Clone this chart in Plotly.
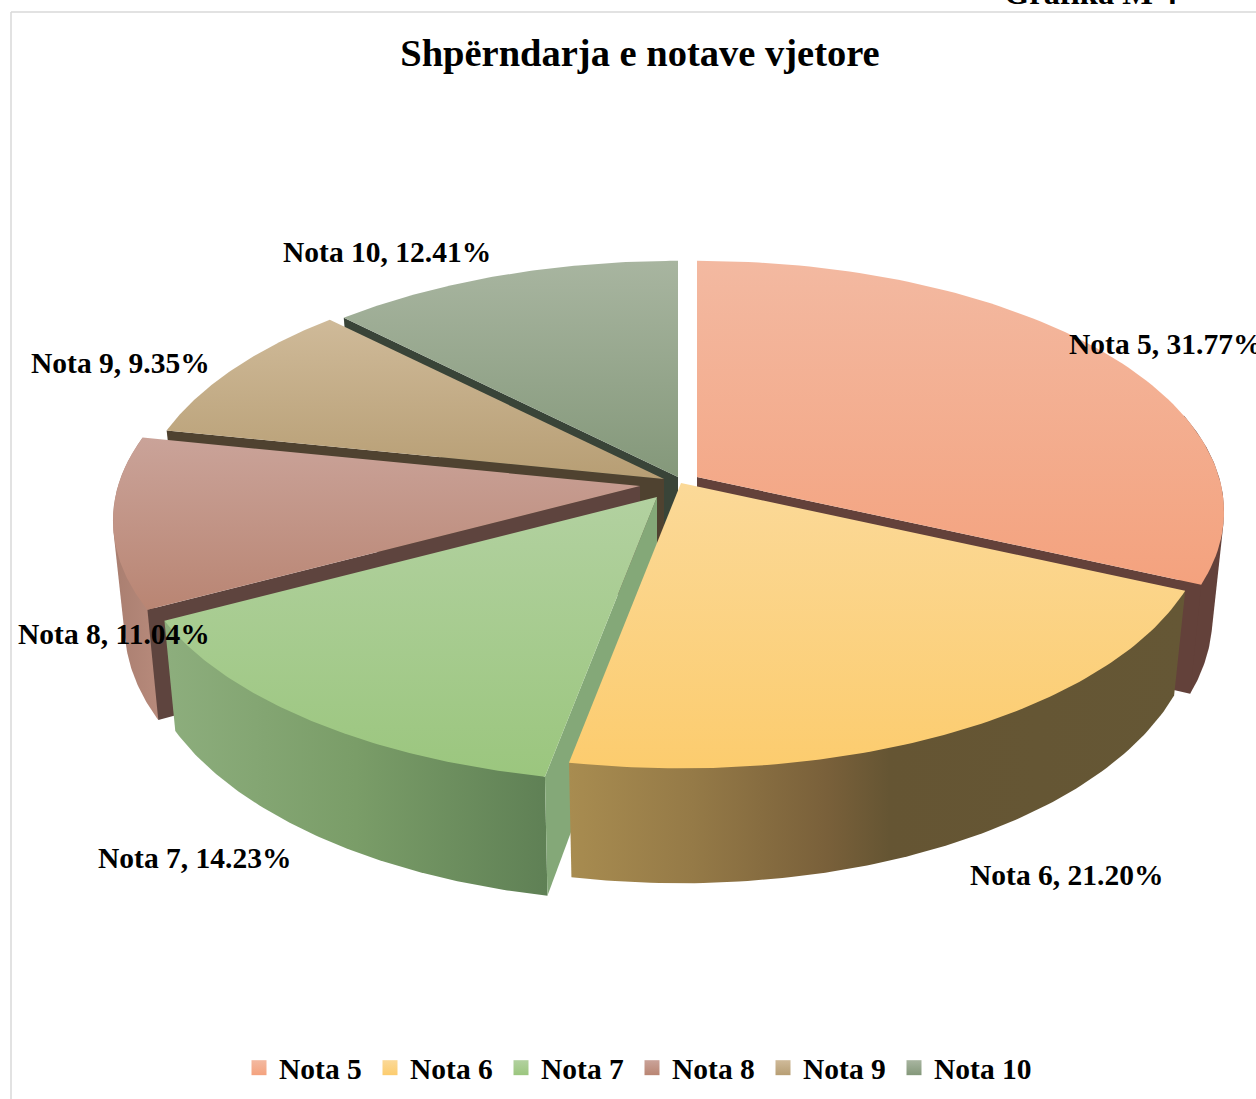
import numpy as np
import plotly.graph_objects as go

# ---- data ----
categories = ["Nota 5", "Nota 6", "Nota 7", "Nota 8", "Nota 9", "Nota 10"]
shares = [31.77, 21.20, 14.23, 11.04, 9.35, 12.41]
title_text = "Shpërndarja e notave vjetore"

# ---- style and layout ----
W, H = 1256, 1099
FONT = "Liberation Serif"
RX, RY, PERSP, TAPER = 522, 246, 0.138, 0.978
DEPTH = [103, 99, 103, 103, 103, 103]
apex = [(697, 477), (681, 483), (657, 497), (640, 486), (664, 479), (678, 477)]
top_grad = [("#f3b9a1", "#f4a27e"), ("#fbd998", "#fccc6e"), ("#b2d1a0", "#9bc67e"),
            ("#caa399", "#b98573"), ("#cfba99", "#b79e74"), ("#a8b5a0", "#84987a")]
rim_grad = [
    [(0, "#63413a"), (1, "#63413a")],
    [(0, "#a88c50"), (0.2, "#957a47"), (0.42, "#79603a"), (0.52, "#655533"), (1, "#655735")],
    [(0, "#8dae7d"), (0.5, "#7a9d68"), (1, "#5f8055")],
    [(0, "#a97e70"), (1, "#b78a7b")],
    None,
    None,
]
wall_color = ["#63413a", None, "#84a878", "#5e443e", "#4f4230", "#394438"]
draw_order = [5, 4, 0, 3, 2, 1]
label_pos = [(1067, 344), (968, 875), (96, 858), (16, 634), (29, 363), (281, 252)]
VIS_FROM, VIS_TO = np.deg2rad(75), np.deg2rad(285)

edges = np.deg2rad(np.concatenate([[0], np.cumsum(shares)]) * 3.6)


def top_pt(i, th):
    X, Y = np.sin(th), -np.cos(th)
    s = 1 / (1 - PERSP * Y)
    return apex[i][0] + RX * X * s, apex[i][1] + RY * Y * s


def low_pt(i, th):
    X, Y = np.sin(th), -np.cos(th)
    s = 1 / (1 - PERSP * Y)
    return apex[i][0] + TAPER * RX * X * s, apex[i][1] + RY * Y * s + DEPTH[i] * s


def hull(xs, ys):
    pts = sorted(set(zip(np.round(xs, 2).tolist(), np.round(ys, 2).tolist())))

    def half(seq):
        out = []
        for p in seq:
            while len(out) > 1 and ((out[-1][0] - out[-2][0]) * (p[1] - out[-2][1])
                                    - (out[-1][1] - out[-2][1]) * (p[0] - out[-2][0])) <= 0:
                out.pop()
            out.append(p)
        return out[:-1]

    ring = half(pts) + half(pts[::-1])
    ring.append(ring[0])
    return [p[0] for p in ring], [p[1] for p in ring]


def poly(fig, xs, ys, **kw):
    fig.add_trace(go.Scatter(x=list(xs), y=list(ys), mode="lines", fill="toself",
                             line=dict(width=0), showlegend=False, hoverinfo="skip", **kw))


fig = go.Figure()
for i in draw_order:
    th = np.linspace(edges[i], edges[i + 1], 90)
    tx, ty = top_pt(i, th)
    ax, ay = apex[i]
    # rim, only the part that faces the viewer
    if rim_grad[i] is not None:
        vis = np.linspace(max(edges[i], VIS_FROM), min(edges[i + 1], VIS_TO), 90)
        vtx, vty = top_pt(i, vis)
        vbx, vby = low_pt(i, vis)
        hx, hy = hull(np.r_[vtx, vbx], np.r_[vty, vby])
        poly(fig, hx, hy, fillcolor=wall_color[i] or rim_grad[i][-1][1],
             fillgradient=dict(type="horizontal", colorscale=rim_grad[i]))
    # the one radial wall that can be seen
    if wall_color[i] is not None:
        e = edges[i + 1] if edges[i + 1] < np.pi else edges[i]
        p, q = top_pt(i, e), low_pt(i, e)
        poly(fig, [ax, p[0], q[0], ax], [ay, p[1], q[1], ay + DEPTH[i]],
             fillcolor=wall_color[i])
    # top face
    poly(fig, np.r_[ax, tx, ax], np.r_[ay, ty, ay],
         fillcolor=top_grad[i][1],
         fillgradient=dict(type="vertical",
                           colorscale=[(0, top_grad[i][1]), (1, top_grad[i][0])]))

# legend entries
for i, name in enumerate(categories):
    fig.add_trace(go.Scatter(
        x=[None], y=[None], mode="markers", name=name, legendrank=i + 1,
        legendwidth=86 if i < 5 else 110,
        marker=dict(symbol="square", size=15, color=top_grad[i][0],
                    gradient=dict(type="vertical", color=top_grad[i][1]))))

annotations = [
    dict(x=label_pos[i][0], y=label_pos[i][1], text=f"{categories[i]}, {shares[i]:.2f}%",
         xanchor="left", yanchor="middle", showarrow=False, xref="x", yref="y",
         font=dict(family=FONT, size=29.5, color="black", weight="bold"))
    for i in range(len(categories))
]
annotations.append(dict(x=1090 / W, y=1 + 7 / H, text="Grafika M 4", xanchor="center",
                        yanchor="middle", showarrow=False, xref="paper", yref="paper",
                        font=dict(family=FONT, size=32.5, color="black", weight="bold")))

fig.update_layout(
    width=W, height=H, margin=dict(l=0, r=0, t=0, b=0),
    paper_bgcolor="white", plot_bgcolor="white",
    font=dict(family=FONT, size=29.5, color="black"),
    title=dict(text=f"<b>{title_text}</b>", x=640 / W, xanchor="center", y=1 - 53 / H,
               yanchor="middle", font=dict(family=FONT, size=38.5, color="black")),
    xaxis=dict(range=[0, W], visible=False, fixedrange=True),
    yaxis=dict(range=[H, 0], visible=False, fixedrange=True),
    legend=dict(orientation="h", x=239 / W, xanchor="left", y=1 - 1068 / H, yanchor="middle",
                itemsizing="trace",
                font=dict(family=FONT, size=29.5, color="black", weight="bold"),
                bgcolor="rgba(0,0,0,0)", borderwidth=0),
    annotations=annotations,
    shapes=[
        dict(type="line", xref="x", yref="y", x0=11, x1=11, y0=12, y1=H,
             line=dict(color="#d9d9d9", width=1.5)),
        dict(type="line", xref="x", yref="y", x0=11, x1=W, y0=12, y1=12,
             line=dict(color="#d9d9d9", width=1.5)),
    ],
)

fig.write_html("out.html", config=dict(displayModeBar=False),
               post_script="document.body.style.margin='0';document.body.style.overflow='hidden';")
